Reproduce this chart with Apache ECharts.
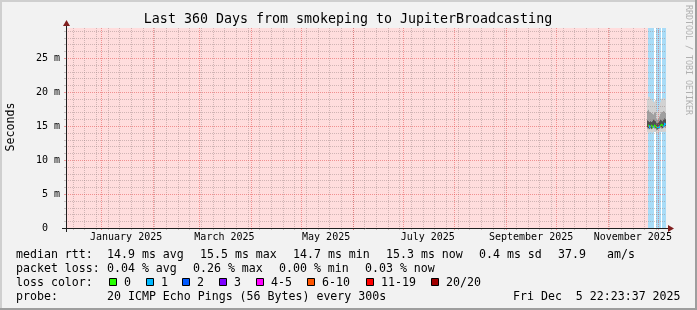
<!DOCTYPE html>
<html><head><meta charset="utf-8">
<script src="https://cdn.jsdelivr.net/npm/echarts@6/dist/echarts.min.js"></script>
<style>html,body{margin:0;padding:0;background:#f2f2f2}#c{width:697px;height:310px}</style>
</head><body><div id="c"></div><script>
// ---------- data ----------
const titleText = 'Last 360 Days from smokeping to JupiterBroadcasting';
const rangeStart = '2024-12-10T22:23:37';
const rangeEnd = '2025-12-05T22:23:37';
const yMax = 29.4;
const yTickValues = [0, 5, 10, 15, 20, 25];
const yTickLabels = ['0  ', '5 m', '10 m', '15 m', '20 m', '25 m'];
const yMinorValues = [1,2,3,4,6,7,8,9,11,12,13,14,16,17,18,19,21,22,23,24,26,27,28,29];
const yMajorValues = [5, 10, 15, 20, 25];
const monthStarts = ['2025-01-01','2025-02-01','2025-03-01','2025-04-01','2025-05-01','2025-06-01',
  '2025-07-01','2025-08-01','2025-09-01','2025-10-01','2025-11-01','2025-12-01'];
const weekStarts = ['2024-12-15','2024-12-22','2024-12-29','2025-01-05','2025-01-12','2025-01-19','2025-01-26',
  '2025-02-02','2025-02-09','2025-02-16','2025-02-23','2025-03-02','2025-03-09','2025-03-16','2025-03-23','2025-03-30',
  '2025-04-06','2025-04-13','2025-04-20','2025-04-27','2025-05-04','2025-05-11','2025-05-18','2025-05-25',
  '2025-06-01','2025-06-08','2025-06-15','2025-06-22','2025-06-29','2025-07-06','2025-07-13','2025-07-20','2025-07-27',
  '2025-08-03','2025-08-10','2025-08-17','2025-08-24','2025-08-31','2025-09-07','2025-09-14','2025-09-21','2025-09-28',
  '2025-10-05','2025-10-12','2025-10-19','2025-10-26','2025-11-02','2025-11-09','2025-11-16','2025-11-23','2025-11-30'];
const monthLabelDates = ['2025-01-16','2025-03-16','2025-05-16','2025-07-16','2025-09-16','2025-11-16'];
const monthLabelTexts = ['January 2025','March 2025','May 2025','July 2025','September 2025','November 2025'];
const noDataRange = [rangeStart, '2025-11-25T00:00:00'];
const slotStarts = ['2025-11-25T00:00:00','2025-11-25T12:00:00','2025-11-26T00:00:00','2025-11-26T12:00:00',
  '2025-11-27T00:00:00','2025-11-27T12:00:00','2025-11-28T00:00:00','2025-11-28T12:00:00',
  '2025-11-29T00:00:00','2025-11-29T12:00:00','2025-11-30T00:00:00','2025-11-30T12:00:00',
  '2025-12-01T00:00:00','2025-12-01T12:00:00','2025-12-02T00:00:00','2025-12-02T12:00:00',
  '2025-12-03T00:00:00','2025-12-03T12:00:00','2025-12-04T00:00:00','2025-12-04T12:00:00',
  '2025-12-05T00:00:00','2025-12-05T12:00:00'];
const lossCount = [0,1,1,1,0,0,1,0,0,0,0,1,1,1,1,0,0,0,1,1,1,1];
const rttMin    = [14.1,14.0,14.1,14.2,14.1,14.0,14.1,14.2,14.1,14.1,14.0,13.9,14.0,14.1,14.1,14.2,14.2,14.1,14.1,14.2,14.2,14.1];
const rttP20    = [14.6,14.5,14.5,14.6,14.6,14.5,14.6,14.7,14.6,14.6,14.5,14.4,14.4,14.5,14.6,14.7,14.8,14.6,14.6,14.7,14.8,14.7];
const rttP40    = [14.8,14.7,14.6,14.7,14.8,14.6,14.7,14.9,14.8,14.7,14.6,14.5,14.5,14.6,14.7,14.9,15.0,14.8,14.7,14.9,15.1,15.0];
const rttMedian = [15.1,15.0,14.9,15.0,15.1,14.9,15.0,15.2,15.1,15.0,14.9,14.8,14.8,14.9,15.0,15.2,15.3,15.1,15.0,15.2,15.4,15.3];
const rttP60    = [15.8,15.7,15.6,15.7,15.8,15.6,15.7,15.9,15.8,15.7,15.5,15.4,15.4,15.5,15.7,15.9,16.0,15.8,15.7,15.9,16.1,16.0];
const rttP80    = [17.2,17.4,17.1,17.0,17.2,16.9,16.8,16.7,16.9,17.0,16.4,16.0,15.9,16.0,16.4,16.8,17.1,17.0,17.0,17.2,17.1,16.9];
const rttMax    = [19.0,19.3,19.0,18.8,19.0,18.7,18.5,18.3,18.6,18.8,17.8,17.1,17.0,17.2,18.0,18.5,19.0,18.8,18.9,19.1,18.9,18.6];
const legendRows = [
  [['median rtt:',16],['14.9 ms avg',107],['15.5 ms max',200],['14.7 ms min',293],['15.3 ms now',386],['0.4 ms sd',479],['37.9',558],['am/s',607]],
  [['packet loss:',16],['0.04 % avg',107],['0.26 % max',193],['0.00 % min',279],['0.03 % now',365]],
  [['loss color:',16]],
  [['probe:',16],['20 ICMP Echo Pings (56 Bytes) every 300s',107],['Fri Dec  5 22:23:37 2025',513]]
];
const lossLegendLabels = ['0','1','2','3','4-5','6-10','11-19','20/20'];
const lossLegendColors = ['#26ff00','#00b8ff','#0059ff','#7e00ff','#ff00ff','#ff5500','#ff0000','#a10000'];
const lossLegendX = [109,146,182,219,256,307,366,431];

// ---------- chart ----------
const T = s => new Date(s.length === 10 ? s + 'T00:00:00' : s).getTime();
const FONT = '"DejaVu Sans Mono", monospace';
const C_GRID = 'rgba(150,130,130,0.45)';
const C_MGRID = 'rgba(230,80,80,0.55)';
const C_AXIS = '#1f1f1f';
const C_ARROW = '#801f1f';
const smokeColors = ['#d2d2d2', '#a0a0a0', '#505050'];
const lossBgColor = '#a9dcf7';
const lossLineColor = ['#26ff00', '#00b8ff'];

const tStart = T(rangeStart), tEnd = T(rangeEnd);
const labelTs = monthLabelDates.map(T);
const slots = slotStarts.map((s, i) => [T(s), i < slotStarts.length - 1 ? T(slotStarts[i + 1]) : tEnd,
  rttMin[i], rttP20[i], rttP40[i], rttMedian[i], rttP60[i], rttP80[i], rttMax[i], lossCount[i]]);

const px = v => Math.round(v);

function vLines(dates, color) {
  return {
    type: 'custom', silent: true, z: 10, clip: false,
    data: dates.map(d => [T(d), 0]),
    renderItem: (params, api) => {
      const cs = params.coordSys;
      const x = px(api.coord([api.value(0), 0])[0]) + 0.5;
      return { type: 'group', children: [
        { type: 'line', shape: { x1: x, y1: cs.y, x2: x, y2: cs.y + cs.height }, style: { stroke: color, lineWidth: 1, lineDash: [1, 1] } },
        { type: 'line', shape: { x1: x, y1: cs.y + cs.height, x2: x, y2: cs.y + cs.height + 2 }, style: { stroke: color, lineWidth: 1 } }
      ]};
    }
  };
}
function hLines(vals, color) {
  return {
    type: 'custom', silent: true, z: 10, clip: false,
    data: vals.map(v => [tStart, v]),
    renderItem: (params, api) => {
      const cs = params.coordSys;
      const y = px(api.coord([api.value(0), api.value(1)])[1]) + 0.5;
      return { type: 'group', children: [
        { type: 'line', shape: { x1: cs.x, y1: y, x2: cs.x + cs.width, y2: y }, style: { stroke: color, lineWidth: 1, lineDash: [1, 1] } },
        { type: 'line', shape: { x1: cs.x - 2, y1: y, x2: cs.x, y2: y }, style: { stroke: color, lineWidth: 1 } }
      ]};
    }
  };
}

const series = [
  { // no-data background
    type: 'custom', silent: true, z: 1,
    data: [[T(noDataRange[0]), T(noDataRange[1])]],
    renderItem: (params, api) => {
      const a = api.coord([api.value(0), yMax]), b = api.coord([api.value(1), 0]);
      return { type: 'rect', shape: { x: px(a[0]), y: a[1], width: px(b[0]) - px(a[0]), height: b[1] - a[1] }, style: { fill: '#ffdddd' } };
    }
  },
  { // loss background bands
    type: 'custom', silent: true, z: 2,
    data: slots,
    renderItem: (params, api) => {
      if (!api.value(9)) return null;
      const a = api.coord([api.value(0), yMax]), b = api.coord([api.value(1), 0]);
      const x0 = Math.floor(a[0]), x1 = Math.ceil(b[0]);
      return { type: 'rect', shape: { x: x0, y: a[1], width: Math.max(1, x1 - x0), height: b[1] - a[1] }, style: { fill: lossBgColor } };
    }
  },
  { // smoke
    type: 'custom', silent: true, z: 3,
    data: slots,
    renderItem: (params, api) => {
      const x0 = Math.floor(api.coord([api.value(0), 0])[0]);
      const x1 = Math.max(x0 + 1, Math.ceil(api.coord([api.value(1), 0])[0]));
      const band = (lo, hi, c) => {
        const y1 = api.coord([api.value(0), api.value(hi)])[1];
        const y0 = api.coord([api.value(0), api.value(lo)])[1];
        return { type: 'rect', shape: { x: x0, y: y1, width: x1 - x0, height: y0 - y1 }, style: { fill: c } };
      };
      return { type: 'group', children: [band(2, 8, smokeColors[0]), band(3, 7, smokeColors[1]), band(4, 6, smokeColors[2])] };
    }
  },
  { // median line colored by loss
    type: 'custom', silent: true, z: 4,
    data: slots,
    renderItem: (params, api) => {
      const i = params.dataIndex;
      const x0 = px(api.coord([api.value(0), 0])[0]);
      const x1 = Math.max(x0 + 1, px(api.coord([api.value(1), 0])[0]));
      const y = px(api.coord([api.value(0), api.value(5)])[1]) + 0.5;
      const c = lossLineColor[Math.min(1, api.value(9))];
      const ch = [{ type: 'line', shape: { x1: x0, y1: y, x2: x1, y2: y }, style: { stroke: c, lineWidth: 1.5 } }];
      if (i > 0) {
        const yp = px(api.coord([api.value(0), rttMedian[i - 1]])[1]) + 0.5;
        ch.push({ type: 'line', shape: { x1: x0 + 0.5, y1: yp, x2: x0 + 0.5, y2: y }, style: { stroke: c, lineWidth: 1 } });
      }
      return { type: 'group', children: ch };
    }
  },
  vLines(weekStarts, C_GRID),
  vLines(monthStarts, C_MGRID),
  hLines(yMinorValues, C_GRID),
  hLines(yMajorValues, C_MGRID)
];

const graphics = [];
// frame
graphics.push({ type: 'rect', shape: { x: 0, y: 0, width: 697, height: 2 }, style: { fill: '#cfcfcf' }, silent: true });
graphics.push({ type: 'rect', shape: { x: 0, y: 0, width: 2, height: 310 }, style: { fill: '#cfcfcf' }, silent: true });
graphics.push({ type: 'rect', shape: { x: 0, y: 308, width: 697, height: 2 }, style: { fill: '#9e9e9e' }, silent: true });
graphics.push({ type: 'rect', shape: { x: 695, y: 0, width: 2, height: 310 }, style: { fill: '#9e9e9e' }, silent: true });
// axis lines and arrows
graphics.push({ type: 'line', shape: { x1: 62, y1: 228.5, x2: 669, y2: 228.5 }, style: { stroke: C_AXIS, lineWidth: 1 }, z: 20 });
graphics.push({ type: 'line', shape: { x1: 66.5, y1: 232, x2: 66.5, y2: 25 }, style: { stroke: C_AXIS, lineWidth: 1 }, z: 20 });
graphics.push({ type: 'polygon', shape: { points: [[668, 225], [668, 232], [674, 228.5]] }, style: { fill: C_ARROW }, z: 21 });
graphics.push({ type: 'polygon', shape: { points: [[63, 26], [70, 26], [66.5, 20]] }, style: { fill: C_ARROW }, z: 21 });
// title
graphics.push({ type: 'text', x: 348, y: 20, style: { text: titleText, font: '13.3px ' + FONT, fill: '#000', align: 'center', verticalAlign: 'middle' } });
// y axis name
graphics.push({ type: 'text', x: 11, y: 127, rotation: Math.PI / 2, style: { text: 'Seconds', font: '11.6px ' + FONT, fill: '#000', align: 'center', verticalAlign: 'middle' } });
// watermark
graphics.push({ type: 'text', x: 688, y: 5, rotation: -Math.PI / 2, style: { text: 'RRDTOOL / TOBI OETIKER', font: '8.3px ' + FONT, fill: '#b0b0b0', align: 'left', verticalAlign: 'middle' } });
// legend rows
const rowY = [254.8, 268.8, 282.8, 296.8];
legendRows.forEach((row, r) => row.forEach(([txt, x]) => {
  graphics.push({ type: 'text', x: x, y: rowY[r], style: { text: txt, font: '11.6px ' + FONT, fill: '#000', align: 'left', verticalAlign: 'middle' } });
}));
lossLegendLabels.forEach((lab, i) => {
  const x = lossLegendX[i];
  graphics.push({ type: 'rect', shape: { x: x + 0.5, y: 278.5, width: 7, height: 7 }, style: { fill: lossLegendColors[i], stroke: '#000', lineWidth: 1 } });
  graphics.push({ type: 'text', x: x + 15, y: rowY[2], style: { text: lab, font: '11.6px ' + FONT, fill: '#000', align: 'left', verticalAlign: 'middle' } });
});

const chart = echarts.init(document.getElementById('c'), null, { renderer: 'canvas', width: 697, height: 310 });
chart.setOption({
  backgroundColor: '#f2f2f2',
  animation: false,
  grid: { left: 66, top: 28, width: 600, height: 200, containLabel: false, outerBoundsMode: 'none', backgroundColor: '#ffffff', show: true, borderWidth: 0 },
  xAxis: {
    type: 'value', min: tStart, max: tEnd,
    axisLine: { show: false },
    axisTick: { show: false },
    splitLine: { show: false },
    axisLabel: {
      customValues: labelTs,
      formatter: v => { const i = labelTs.indexOf(v); return i >= 0 ? monthLabelTexts[i] : ''; },
      fontFamily: FONT, fontSize: 10, color: '#000', margin: 4, hideOverlap: false
    }
  },
  yAxis: {
    type: 'value', min: 0, max: yMax,
    axisLine: { show: false },
    axisTick: { show: false },
    splitLine: { show: false },
    axisLabel: {
      customValues: yTickValues,
      formatter: v => { const i = yTickValues.indexOf(v); return i >= 0 ? yTickLabels[i] : ''; },
      fontFamily: FONT, fontSize: 10, color: '#000', margin: 6
    }
  },
  series: series,
  graphic: graphics
});
</script></body></html>
